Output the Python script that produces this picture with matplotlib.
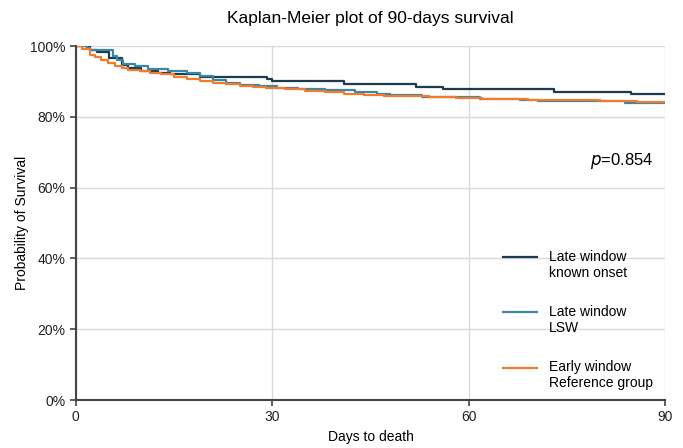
import matplotlib.pyplot as plt
from matplotlib.ticker import PercentFormatter
from matplotlib.legend_handler import HandlerLine2D

plt.rcParams['font.family'] = ['Liberation Sans', 'DejaVu Sans']

# Kaplan-Meier step data (days, survival in %)
known_days = [0, 2.1, 3.2, 5.0, 7.0, 8.0, 10.0, 12.5, 14.4, 19.0, 29.2, 30.0,
              41.0, 52.0, 56.0, 73.0, 84.8, 90]
known_surv = [100, 98.9, 98.4, 96.6, 94.6, 93.8, 93.0, 92.3, 92.0, 91.3, 90.7, 90.1,
              89.3, 88.5, 87.8, 87.1, 86.4, 86.4]

lsw_days = [0, 1.7, 2.1, 5.7, 6.3, 7.2, 9.0, 11.0, 14.0, 17.0, 19.0, 21.0, 23.0,
            25.0, 28.0, 30.7, 34.0, 38.0, 42.6, 46.0, 48.0, 52.8, 61.7, 67.8,
            70.6, 83.9, 90]
lsw_surv = [100, 99.5, 98.9, 97.2, 96.0, 94.9, 94.3, 93.5, 92.9, 92.5, 91.5, 90.5, 89.5,
            89.0, 88.7, 88.2, 87.9, 87.6, 87.1, 86.6, 86.1, 85.7, 85.2, 84.8,
            84.5, 84.0, 84.0]

ref_days = [0, 1.0, 2.1, 2.9, 3.9, 4.9, 6.0, 7.0, 8.0, 9.8, 11.3, 13, 15, 17, 19,
            21, 23, 25, 27, 29, 32, 35, 38, 41, 44, 47, 50, 54, 58, 62, 69, 72,
            80, 85.7, 90]
ref_surv = [100, 99.1, 97.5, 97.0, 96.0, 95.3, 94.4, 93.7, 93.4, 93.0, 92.5, 92.0, 91.4,
            90.8, 90.2, 89.7, 89.3, 88.8, 88.4, 88.1, 87.8, 87.4, 87.0, 86.6, 86.3,
            86.0, 85.8, 85.6, 85.4, 85.2, 84.9, 84.7, 84.6, 84.2, 84.2]

labels = ['Late window\nknown onset', 'Late window\nLSW', 'Early window\nReference group']
colors = ['#1d3a4f', '#3b87a6', '#f37b2b']
p_value = 0.854


class FirstLineHandler(HandlerLine2D):
    """Put the legend line next to the first line of a two-line label."""

    def create_artists(self, legend, orig_handle, xdescent, ydescent, width, height,
                       fontsize, trans):
        return super().create_artists(legend, orig_handle, xdescent,
                                      ydescent - 1.2 * fontsize, width, height,
                                      fontsize, trans)


fig = plt.figure(figsize=(6.83, 4.48), dpi=100)
ax = fig.add_axes([0.111, 0.107, 0.863, 0.790])

series = [(known_days, known_surv), (lsw_days, lsw_surv), (ref_days, ref_surv)]
for (d, s), lab, c in zip(series, labels, colors):
    ax.step(d, s, where='post', color=c, lw=1.6, label=lab)

ax.set_xlim(0, 90)
ax.set_ylim(0, 100)
ax.set_xticks([0, 30, 60, 90])
ax.set_yticks([0, 20, 40, 60, 80, 100])
ax.yaxis.set_major_formatter(PercentFormatter(decimals=0))
ax.grid(True, color='#dadada', lw=1)
ax.set_axisbelow(True)

for side in ['top', 'right']:
    ax.spines[side].set_visible(False)
for side in ['left', 'bottom']:
    ax.spines[side].set_color('#444444')
    ax.spines[side].set_linewidth(1.5)
ax.tick_params(length=4, width=1.2, color='#444444', labelsize=10, labelcolor='#222222')

ax.set_title('Kaplan-Meier plot of 90-days survival', fontsize=12.5, pad=17)
ax.set_xlabel('Days to death', fontsize=10, labelpad=4)
ax.set_ylabel('Probability of Survival', fontsize=10, labelpad=1)

ax.text(0.98, 0.675, '$p$=%.3f' % p_value, transform=ax.transAxes, ha='right',
        va='center', fontsize=12)

ax.legend(loc='lower right', bbox_to_anchor=(0.995, 0.0), frameon=False, fontsize=10,
          handlelength=2.5, labelspacing=1.8, borderaxespad=0.3,
          handler_map={plt.Line2D: FirstLineHandler()})

fig.savefig('out.png', dpi=100)
